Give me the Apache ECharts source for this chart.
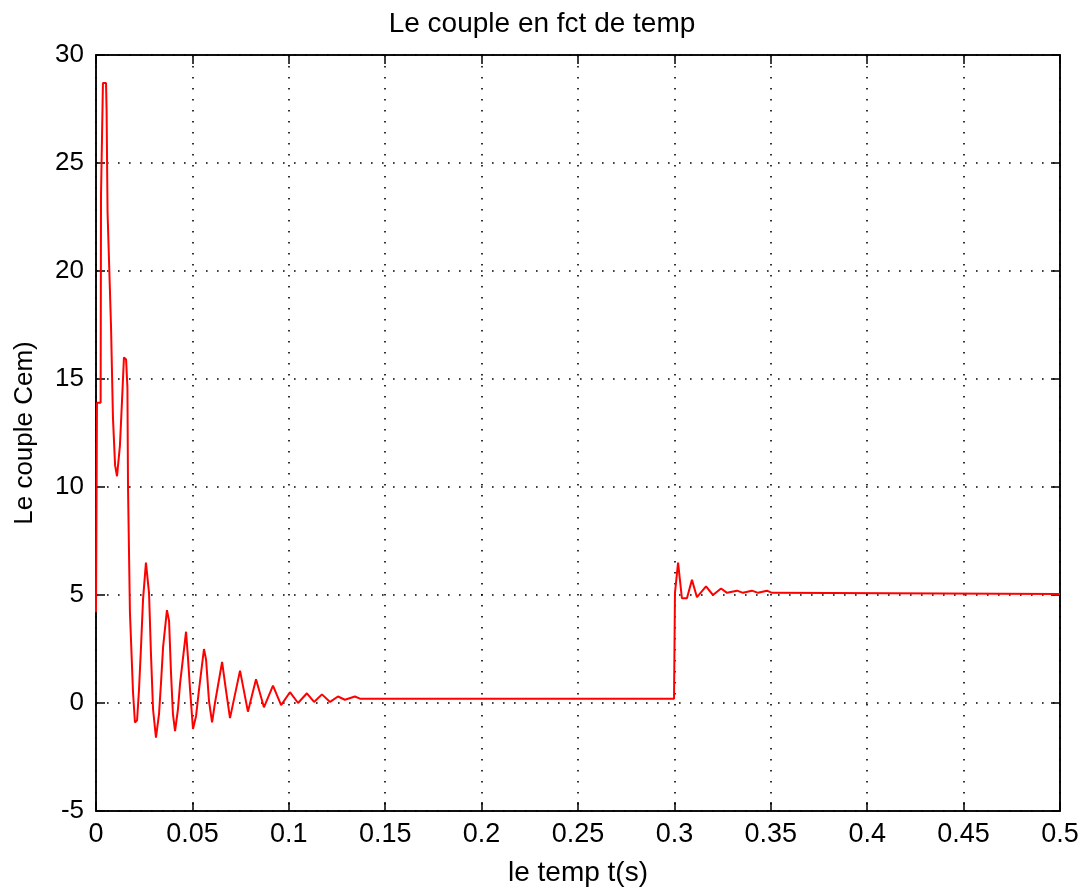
<!DOCTYPE html>
<html>
<head>
<meta charset="utf-8">
<script src="https://cdn.jsdelivr.net/npm/echarts@6/dist/echarts.min.js"></script>
<style>
html,body{margin:0;padding:0;background:#fff;}
#chart{width:1084px;height:892px;}
</style>
</head>
<body>
<div id="chart"></div>
<script>
// Time samples (s)
var timeValues = [0, 0.0003, 0.0005, 0.0024, 0.0026, 0.0034, 0.0036, 0.0052, 0.0055, 0.0058, 0.006, 0.0078, 0.0088, 0.0099, 0.0109, 0.0124, 0.0135, 0.0145, 0.0156, 0.0163, 0.0166, 0.0176, 0.0192, 0.0202, 0.0213, 0.0223, 0.0233, 0.0244, 0.0259, 0.0275, 0.0285, 0.0296, 0.0311, 0.0327, 0.0337, 0.0348, 0.0368, 0.0379, 0.0389, 0.0399, 0.041, 0.0425, 0.0436, 0.0467, 0.0477, 0.0488, 0.0503, 0.0519, 0.0534, 0.056, 0.0571, 0.0586, 0.0602, 0.0617, 0.0654, 0.0674, 0.0695, 0.0747, 0.0788, 0.083, 0.0871, 0.0918, 0.096, 0.1006, 0.1048, 0.1094, 0.1131, 0.1172, 0.1214, 0.1255, 0.1291, 0.1343, 0.1369, 0.2998, 0.3003, 0.3019, 0.3029, 0.3039, 0.3065, 0.3091, 0.3117, 0.3164, 0.32, 0.3242, 0.3273, 0.3325, 0.3356, 0.3402, 0.3434, 0.348, 0.3506, 0.5];
// Electromagnetic torque Cem
var torqueValues = [4.2, 4.2, 13.9, 13.9, 23.5, 23.5, 28.7, 28.7, 27.4, 27.4, 22.7, 17.4, 13.2, 11.0, 10.5, 11.9, 14.0, 16.0, 15.9, 14.6, 10.0, 4.2, 0.5, -0.9, -0.8, 0.6, 2.5, 4.8, 6.5, 5.1, 2.3, -0.3, -1.6, -0.5, 0.9, 2.6, 4.3, 3.8, 1.4, -0.5, -1.3, -0.3, 0.9, 3.3, 2.1, 0.6, -1.2, -0.6, 0.6, 2.5, 2.0, 0.1, -0.9, 0.0, 1.9, 0.6, -0.7, 1.5, -0.4, 1.1, -0.2, 0.8, -0.1, 0.5, 0.0, 0.45, 0.05, 0.4, 0.05, 0.3, 0.15, 0.3, 0.2, 0.2, 5.1, 6.5, 6.5, 4.85, 4.85, 5.7, 4.9, 5.4, 5.0, 5.3, 5.1, 5.2, 5.1, 5.2, 5.1, 5.2, 5.1, 5.05];
var xTickLabels = ['0', '0.05', '0.1', '0.15', '0.2', '0.25', '0.3', '0.35', '0.4', '0.45', '0.5'];
var yTickLabels = ['-5', '0', '5', '10', '15', '20', '25', '30'];
var titleText = 'Le couple en fct de temp';
var xName = 'le temp t(s)';
var yName = 'Le couple Cem)';

var seriesData = timeValues.map(function (t, i) { return [t, torqueValues[i]]; });
var font = "'Liberation Sans', Arial, sans-serif";
var dotted = { color: '#000', width: 1.6, type: [1.6, 9.4] };
var axisLineStyle = { show: true, onZero: false, lineStyle: { color: '#000', width: 1.5 } };
var tickStyle = { show: true, inside: true, length: 9, lineStyle: { color: '#000', width: 1.5 } };

var chart = echarts.init(document.getElementById('chart'), null, { renderer: 'canvas' });
chart.setOption({
  animation: false,
  backgroundColor: '#fff',
  title: {
    text: titleText, left: 'center', top: 5,
    textStyle: { fontFamily: font, fontSize: 28, fontWeight: 'normal', color: '#000' }
  },
  grid: { left: 96, top: 55, width: 964, height: 756, show: true, borderColor: '#000', borderWidth: 1.5, backgroundColor: '#fff' },
  xAxis: [{
    type: 'value', min: 0, max: 0.5, interval: 0.05, position: 'bottom',
    name: xName, nameLocation: 'middle', nameGap: 48,
    nameTextStyle: { fontFamily: font, fontSize: 28, color: '#000' },
    axisLine: axisLineStyle,
    axisTick: tickStyle,
    axisLabel: { fontFamily: font, fontSize: 27, color: '#000', margin: 10,
      formatter: function (v) { return xTickLabels[Math.round(v / 0.05)]; } },
    splitLine: { show: true, lineStyle: dotted }
  }, {
    type: 'value', min: 0, max: 0.5, interval: 0.05, position: 'top',
    axisLine: axisLineStyle,
    axisTick: tickStyle,
    axisLabel: { show: false }, splitLine: { show: false }
  }],
  yAxis: [{
    type: 'value', min: -5, max: 30, interval: 5, position: 'left',
    name: yName, nameLocation: 'middle', nameGap: 58, nameRotate: 90,
    nameTextStyle: { fontFamily: font, fontSize: 26, color: '#000' },
    axisLine: axisLineStyle,
    axisTick: tickStyle,
    axisLabel: { fontFamily: font, fontSize: 26, color: '#000', margin: 12,
      formatter: function (v) { return yTickLabels[Math.round((v + 5) / 5)]; } },
    splitLine: { show: true, lineStyle: dotted }
  }, {
    type: 'value', min: -5, max: 30, interval: 5, position: 'right',
    axisLine: axisLineStyle,
    axisTick: tickStyle,
    axisLabel: { show: false }, splitLine: { show: false }
  }],
  series: [{
    type: 'line', data: seriesData, showSymbol: false, symbol: 'none',
    lineStyle: { color: '#ff0000', width: 2 }, z: 5, clip: true
  }]
});
</script>
</body>
</html>
